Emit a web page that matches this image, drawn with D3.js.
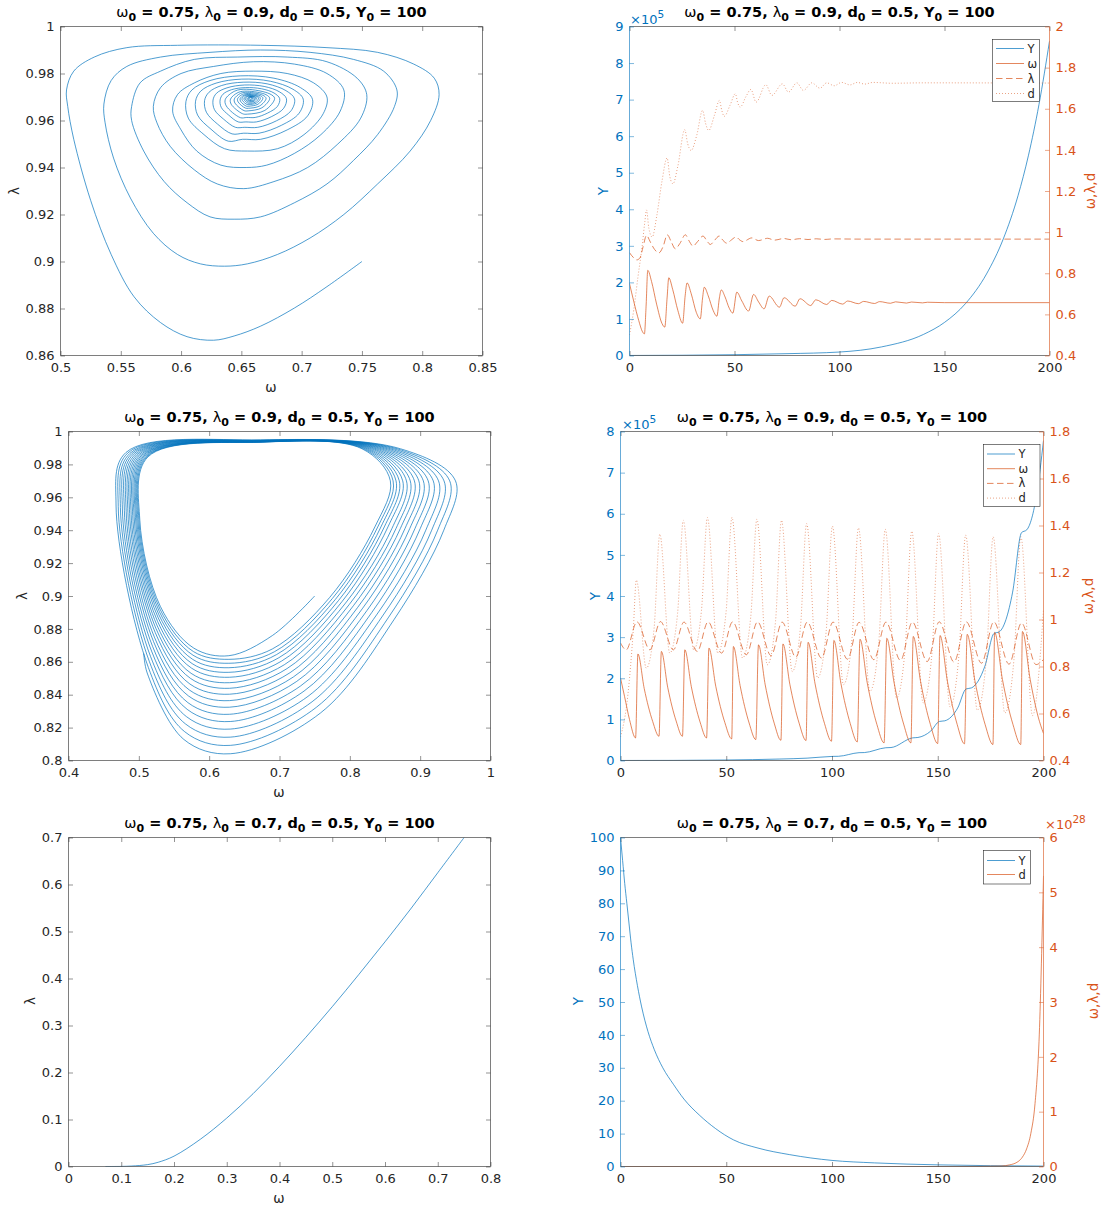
<!DOCTYPE html>
<html>
<head>
<meta charset="utf-8">
<script src="https://cdn.jsdelivr.net/npm/d3@7"></script>
<style>
  body { margin: 0; background: #fff; }
  svg text { font-family: "DejaVu Sans", sans-serif; white-space: pre; }
</style>
</head>
<body>
<svg id="fig" width="1102" height="1207"></svg>
<script>
const BLUE = '#0072BD', ORANGE = '#D95319', INK = '#262626'

// ---------- data ----------

// row titles: lambda_0 of each row
const lambda0 = ['0.9', '0.9', '0.7']

// top-left: converging spiral (omega, lambda)
const orbit1 = [
  [0.750,0.9000],[0.721,0.8893],[0.694,0.8802],[0.666,0.8725],[0.644,0.8683],[0.627,0.8665],[0.605,0.868],[0.583,0.874],
  [0.561,0.885],[0.542,0.903],[0.525,0.926],[0.511,0.952],[0.506,0.966],[0.505,0.973],[0.511,0.981],[0.528,0.987],
  [0.555,0.991],[0.597,0.992],[0.666,0.992],[0.721,0.991],[0.763,0.989],[0.793,0.984],[0.810,0.978],[0.814,0.971],
  [0.807,0.960],[0.790,0.947],[0.763,0.933],[0.735,0.920],[0.707,0.910],[0.680,0.903],[0.655,0.899],[0.636,0.898],
  [0.616,0.899],[0.597,0.903],[0.577,0.912],[0.558,0.927],[0.544,0.944],[0.537,0.959],[0.536,0.967],[0.542,0.977],
  [0.555,0.983],[0.583,0.987],[0.624,0.989],[0.666,0.990],[0.707,0.989],[0.743,0.986],[0.768,0.981],[0.779,0.973],
  [0.777,0.966],[0.763,0.954],[0.743,0.943],[0.721,0.933],[0.694,0.925],[0.666,0.919],[0.644,0.918],
  [0.624,0.919],[0.605,0.925],[0.586,0.934],[0.569,0.947],[0.559,0.960],[0.559,0.966],[0.566,0.976],[0.583,0.981],
  [0.611,0.986],[0.647,0.987],[0.688,0.987],[0.721,0.985],[0.746,0.978],[0.754,0.971],[0.749,0.961],[0.730,0.950],
  [0.705,0.940],[0.677,0.934],[0.652,0.931],
  [0.630,0.933],[0.611,0.939],[0.591,0.949],[0.580,0.959],[0.577,0.966],[0.583,0.974],[0.600,0.980],[0.627,0.983],
  [0.660,0.985],[0.694,0.984],[0.721,0.980],[0.735,0.973],[0.732,0.964],[0.716,0.954],[0.694,0.946],[0.671,0.941],[0.654,0.940],
  [0.633,0.941],[0.613,0.947],[0.600,0.956],[0.593,0.964],[0.597,0.971],[0.611,0.976],[0.633,0.980],[0.660,0.981],
  [0.688,0.980],[0.710,0.976],[0.721,0.970],[0.718,0.963],[0.702,0.954],[0.680,0.948],[0.655,0.947],
  [0.636,0.948],[0.619,0.954],[0.606,0.961],[0.604,0.968],[0.609,0.973],[0.624,0.977],[0.649,0.979],[0.677,0.978],
  [0.699,0.974],[0.709,0.969],[0.705,0.962],[0.688,0.956],[0.666,0.952],[0.651,0.952],
  [0.6392,0.9512],[0.6248,0.9563],[0.6137,0.9623],[0.6120,0.9682],[0.6163,0.9725],[0.6290,0.9759],[0.6503,0.9776],
  [0.6741,0.9767],[0.6928,0.9733],[0.7013,0.9691],[0.6979,0.9631],[0.6834,0.9580],[0.6647,0.9546],[0.6520,0.9546],
  [0.6423,0.9543],[0.6302,0.9585],[0.6210,0.9635],[0.6195,0.9685],[0.6231,0.9720],[0.6337,0.9749],[0.6515,0.9763],
  [0.6714,0.9756],[0.6870,0.9727],[0.6941,0.9692],[0.6913,0.9642],[0.6792,0.9599],[0.6636,0.9571],[0.6529,0.9571],
  [0.6451,0.9571],[0.6352,0.9606],[0.6277,0.9646],[0.6265,0.9687],[0.6294,0.9716],[0.6381,0.9739],[0.6526,0.9751],
  [0.6689,0.9745],[0.6816,0.9722],[0.6874,0.9693],[0.6851,0.9652],[0.6752,0.9617],[0.6625,0.9594],[0.6538,0.9594],
  [0.6474,0.9594],[0.6395,0.9623],[0.6333,0.9656],[0.6324,0.9688],[0.6348,0.9712],[0.6418,0.9731],[0.6536,0.9740],
  [0.6667,0.9735],[0.6771,0.9717],[0.6818,0.9693],[0.6799,0.9660],[0.6719,0.9632],[0.6615,0.9613],[0.6545,0.9613],
  [0.6492,0.9612],[0.6375,0.9662],[0.6367,0.9690],[0.6445,0.9725],[0.6542,0.9733],[0.6737,0.9713],[0.6776,0.9694],[0.6695,0.9643],[0.6550,0.9627],
  [0.6509,0.9629],[0.6416,0.9669],[0.6410,0.9691],[0.6472,0.9719],[0.6549,0.9725],[0.6704,0.9710],[0.6735,0.9694],[0.6670,0.9654],[0.6556,0.9641],
  [0.6522,0.9642],[0.6447,0.9674],[0.6442,0.9692],[0.6492,0.9715],[0.6554,0.9720],[0.6680,0.9707],[0.6705,0.9694],[0.6652,0.9662],[0.6559,0.9652],
  [0.6533,0.9653],[0.6473,0.9679],[0.6469,0.9693],[0.6509,0.9711],[0.6559,0.9715],[0.6659,0.9705],[0.6679,0.9695],[0.6637,0.9669],[0.6563,0.9661],
  [0.6541,0.9661],[0.6493,0.9682],[0.6490,0.9693],[0.6522,0.9708],[0.6562,0.9711],[0.6642,0.9703],[0.6658,0.9695],[0.6625,0.9674],[0.6565,0.9668],
  [0.6548,0.9668],[0.6509,0.9685],[0.6506,0.9694],[0.6532,0.9706],[0.6565,0.9708],[0.6630,0.9702],[0.6643,0.9695],[0.6616,0.9678],[0.6567,0.9673],
  [0.6554,0.9674],[0.6524,0.9687],[0.6522,0.9694],[0.6542,0.9703],[0.6567,0.9705],[0.6617,0.9700],[0.6627,0.9695],[0.6606,0.9682],[0.6569,0.9678],
  [0.6559,0.9679],[0.6535,0.9689],[0.6533,0.9695],[0.6549,0.9702],[0.6569,0.9704],[0.6609,0.9700],[0.6617,0.9696],[0.6600,0.9685],[0.6571,0.9682],
  [0.6545,0.9691],[0.6571,0.9702],[0.6607,0.9696],[0.6594,0.9688],[0.6572,0.9685],
  [0.6555,0.9693],[0.6573,0.9700],[0.6597,0.9696],[0.6573,0.9689],
  [0.6563,0.9695],[0.6574,0.9698],[0.6589,0.9696],[0.6576,0.9696]
]

// middle-left: widening cycle (omega, lambda)
const orbit2 = [
  [0.750,0.900],[0.690,0.876],
  [0.628,0.8637],[0.5782,0.8683],[0.5308,0.8935],[0.5014,0.9461],[0.5128,0.9845],[0.673,0.9935],[0.8173,0.9895],[0.8576,0.970],[0.8356,0.942],[0.7713,0.8991],[0.6898,0.8678],
  [0.628,0.8615],[0.5777,0.8662],[0.5301,0.8920],[0.5000,0.9465],[0.5115,0.9846],[0.673,0.9936],[0.8196,0.9895],[0.8615,0.970],[0.8397,0.942],[0.7752,0.8985],[0.6927,0.8661],
  [0.628,0.8591],[0.5771,0.8640],[0.5293,0.8904],[0.4985,0.9469],[0.5101,0.9847],[0.673,0.9936],[0.8221,0.9895],[0.8657,0.970],[0.8442,0.942],[0.7794,0.8979],[0.6959,0.8644],
  [0.628,0.8564],[0.5765,0.8615],[0.5285,0.8886],[0.4969,0.9473],[0.5086,0.9849],[0.673,0.9937],[0.8248,0.9895],[0.8703,0.970],[0.8490,0.942],[0.7838,0.8972],[0.6992,0.8625],
  [0.628,0.8536],[0.5758,0.8589],[0.5276,0.8867],[0.4952,0.9478],[0.5070,0.9850],[0.673,0.9938],[0.8277,0.9895],[0.8752,0.970],[0.8542,0.942],[0.7887,0.8965],[0.7028,0.8604],
  [0.629,0.8506],[0.5751,0.8561],[0.5266,0.8846],[0.4933,0.9483],[0.5053,0.9852],[0.673,0.9938],[0.8308,0.9895],[0.8805,0.970],[0.8598,0.941],[0.7939,0.8957],[0.7068,0.8582],
  [0.629,0.8473],[0.5743,0.8530],[0.5256,0.8824],[0.4913,0.9489],[0.5034,0.9853],[0.673,0.9939],[0.8341,0.9895],[0.8859,0.970],[0.8656,0.941],[0.7993,0.8949],[0.7108,0.8559],
  [0.629,0.8439],[0.5735,0.8499],[0.5245,0.8801],[0.4891,0.9495],[0.5015,0.9855],[0.673,0.9940],[0.8375,0.9895],[0.8918,0.970],[0.8718,0.941],[0.8051,0.8941],[0.7151,0.8534],
  [0.629,0.8403],[0.5726,0.8465],[0.5234,0.8777],[0.4869,0.9501],[0.4994,0.9857],[0.673,0.9941],[0.8412,0.9895],[0.8981,0.970],[0.8784,0.941],[0.8112,0.8931],[0.7198,0.8508],
  [0.629,0.8364],[0.5717,0.8429],[0.5221,0.8750],[0.4845,0.9507],[0.4972,0.9859],[0.673,0.9942],[0.8450,0.9895],[0.9045,0.970],[0.8852,0.941],[0.8176,0.8922],[0.7245,0.8481],
  [0.629,0.8324],[0.5707,0.8392],[0.5209,0.8723],[0.4820,0.9514],[0.4949,0.9861],[0.673,0.9943],[0.8491,0.9895],[0.9114,0.970],[0.8926,0.941],[0.8244,0.8912],[0.7296,0.8452],
  [0.629,0.8281],[0.5697,0.8352],[0.5195,0.8694],[0.4794,0.9521],[0.4924,0.9863],[0.673,0.9944],[0.8533,0.9895],[0.9186,0.970],[0.9001,0.941],[0.8314,0.8901],[0.7349,0.8422],
  [0.630,0.8237],[0.5687,0.8311],[0.5181,0.8665],[0.4766,0.9529],[0.4899,0.9865],[0.673,0.9945],[0.8577,0.9895],[0.9261,0.970],[0.9080,0.940],[0.8388,0.8890],[0.7405,0.8390],
  [0.630,0.8191],[0.5676,0.8267],[0.5166,0.8633],[0.4738,0.9537],[0.4873,0.9867],[0.673,0.9946],[0.8624,0.9895],[0.9339,0.970],[0.9164,0.940],[0.8466,0.8879],[0.7463,0.8357],
  [0.630,0.8142],[0.5664,0.8222],[0.5151,0.8600],[0.4707,0.9545],[0.4845,0.9870],[0.673,0.9947],[0.8672,0.9895],[0.9420,0.970],[0.9249,0.940],[0.8545,0.8867],[0.7523,0.8323],
  [0.630,0.8092],[0.5652,0.8175],[0.5135,0.8566],[0.4676,0.9553],[0.4816,0.9872],[0.673,0.9949],[0.8720,0.9895],[0.9502,0.970],[0.9336,0.940],[0.8626,0.8855],[0.7583,0.8289],
  [0.630,0.8041],[0.5640,0.8128],[0.5119,0.8532],[0.507,0.865]
]

// bottom-left: collapse towards the origin
const omega3  = [0.75, 0.70, 0.65, 0.60, 0.55, 0.50, 0.45, 0.40, 0.35, 0.30, 0.25, 0.20, 0.17, 0.15, 0.12, 0.10, 0.07]
const lambda3 = [0.70, 0.625, 0.55, 0.478, 0.408, 0.340, 0.275, 0.213, 0.155, 0.103, 0.058, 0.022, 0.009, 0.004, 0.001, 0.0002, 0]

// top-right time series
const tW2 = [0,2.1,4.4,6.2,7.1,7.9,8.7,10.5,12.9,15.5,16.8,17.9,18.7,20.6,23.0,25.3,26.5,27.4,29.4,31.8,33.7,34.8,35.6,37.5,39.8,41.6,42.8,43.7,45.5,47.5,49.2,51.1,53.5,56.7,59.1,61.5,64.1,66.5,71.4,73.6,78.9,81.2,86.3,88.7,93.9,96.3,101.5,103.9,109.0,111.5,116.7,119.1,124.3,126.7,131.9,134.3,139.5,141.9,150,200]
const w2  = [.750,.660,.570,.515,.505,.640,.814,.760,.650,.555,.538,.680,.778,.720,.620,.557,.690,.753,.700,.610,.578,.680,.732,.690,.620,.591,.680,.719,.685,.630,.606,.708,.665,.616,.697,.660,.627,.689,.635,.681,.640,.676,.643,.671,.648,.668,.650,.665,.652,.663,.653,.662,.654,.661,.655,.660,.656,.659,.657,.657]
const tL2 = [0,2,3.5,5,6.5,8.1,10,12,14,16,18,20,21.8,24,26.6,28.5,30.2,32.5,35,37,38.5,40.5,42.7,44.5,46.4,48.5,50.7,52.5,54,58.3,61.4,65.8,69,73.5,77,81,85,89,93,97,110,200]
const l2  = [.900,.875,.865,.875,.930,.984,.950,.915,.899,.930,.987,.950,.919,.945,.987,.955,.932,.955,.981,.955,.940,.960,.981,.960,.946,.962,.976,.962,.954,.972,.959,.970,.961,.969,.963,.968,.964,.9675,.9645,.967,.966,.966]
const tD2 = [0,2,4,6,7.3,8.1,9.2,10.8,13,15.5,17.9,19.2,20.7,23,26.3,27.7,29.3,32,34.8,36.2,37.7,40.5,42.8,44,45.1,48,50.4,51.5,52.7,55.5,57.8,60.3,64.9,67.8,72.8,75.7,79.7,82.8,86.8,90.7,93.9,97.5,101,105,108.5,112,116,125,140,200]
const d2  = [.50,.62,.78,.93,1.05,1.108,1.02,.976,1.08,1.25,1.361,1.27,1.235,1.32,1.498,1.43,1.397,1.47,1.592,1.53,1.494,1.57,1.640,1.59,1.563,1.62,1.673,1.63,1.608,1.66,1.694,1.632,1.717,1.665,1.721,1.681,1.726,1.689,1.726,1.700,1.726,1.712,1.728,1.716,1.728,1.72,1.728,1.724,1.726,1.725]
const tY2 = [0,25,50,75,100,120,140,150,160,170,178,185,190,195,200]
const y2  = [100,700,2200,5000,9500,23500,57700,90500,142000,223000,319000,437000,548000,687000,860000]

// middle-right time series
const tW4 = [0,1.9,4.27,7.13,8.23, 11.22,15.22,18.21,19.32, 22.31,26.31,29.30,30.40, 33.49,37.61,40.70,41.81,
  45.04,49.35,52.58,53.37, 56.55,60.80,63.98,65.24, 68.42,72.67,75.85,76.80, 80.08,84.45,87.73,88.68,
  92.00,96.44,99.76,100.88, 104.20,108.64,111.96,113.23, 116.65,121.21,124.63,125.90, 129.32,133.88,137.30,138.41,
  141.88,146.50,149.97,151.08, 154.55,159.17,162.64,163.90, 167.56,172.44,176.10,176.89, 180.60,185.54,189.24,190.03,
  193.7,197.5,200]
const w4  = [.751,.673,.574,.496,.853, .706,.566,.503,.864, .712,.568,.503,.871, .714,.564,.496,.878,
  .716,.561,.492,.885, .719,.560,.489,.892, .722,.559,.486,.896, .724,.559,.485,.903,
  .726,.558,.482,.911, .729,.557,.479,.916, .731,.554,.475,.920, .733,.555,.475,.928,
  .736,.554,.472,.932, .738,.554,.471,.937, .740,.552,.468,.945, .744,.554,.468,.949,
  .745,.585,.515]
const tL4 = [0,2.7,7.8,13.9,18.9,25.0,30.0,36.3,41.4,47.8,53.0,59.5,64.8,71.2,76.4,82.9,88.3,95.0,100.5,107.3,112.8,119.8,125.5,132.4,138.0,145.0,150.7,157.7,163.5,170.7,176.5,183.7,189.6,196.5,200]
const l4  = [.900,.871,.990,.871,.991,.871,.989,.864,.990,.857,.990,.850,.990,.846,.989,.840,.989,.836,.989,.831,.988,.829,.989,.826,.989,.821,.990,.819,.990,.814,.990,.810,.985,.808,.830]
const tD4 = [0,3.5,6,7.5, 12.2,15.9,18.6, 23.3,27.0,29.7, 34.6,38.3,41.1, 46.0,49.9,52.7, 57.7,61.6,64.5, 69.4,73.3,76.1,
  81.2,85.1,88.0, 93.2,97.2,100.2, 105.4,109.5,112.5, 117.9,122.1,125.2, 130.5,134.6,137.7, 143.1,147.3,150.4,
  155.8,160.0,163.2, 168.7,173.0,176.2, 181.7,186.0,189.3, 194.8,200]
const d4  = [.50,.68,.95,1.168, .793,.964,1.363, .857,1.027,1.422, .871,1.040,1.434, .857,1.030,1.434, .836,1.013,1.427, .807,.992,1.422,
  .779,.968,1.408, .751,.945,1.397, .723,.923,1.390, .694,.901,1.384, .666,.879,1.376, .645,.861,1.366,
  .628,.847,1.359, .614,.835,1.352, .602,.827,1.352, .591,1.04]
const tY4 = [0,25,50,75,88.2,100.5,103,112.8,115.3,125.4,127.9,138.1,140.6,146.7,150.8,153.3,159.4,163.4,165.9,172.3,176.6,179.1,185.4,189.6,192.1,196.8,200]
const y4  = [100,300,1200,3500,5700,10000,10200,19000,19300,31000,31500,55000,56000,71600,95000,96500,127500,174000,176500,229500,309000,313000,409400,554000,561000,648000,778000]

// bottom-right time series (d in units of 1e28)
const tY6 = [0,1,2,3,4,5,6,8,10,13,16,20,25,30,37.5,45,53.4,65,80,100,120,150,175,200]
const y6  = [100,93,86,80,74,68,63,55,48.5,41,35.5,30,25,20.5,15.5,11.5,8.1,5.6,3.6,1.85,1.1,0.5,0.25,0.12]
const tD6 = [0,150,170,180,184,186,188,190,192,194,196,198,200]
const d6  = [0,0,0.002,0.008,0.03,0.05,0.09,0.17,0.32,0.6,1.15,2.4,5.3]

// tick values
const ticksT   = [0, 50, 100, 150, 200]
const ticksW1  = [0.5, 0.55, 0.6, 0.65, 0.7, 0.75, 0.8, 0.85]
const ticksL1  = [0.86, 0.88, 0.9, 0.92, 0.94, 0.96, 0.98, 1]
const ticksW2  = [0.4, 0.5, 0.6, 0.7, 0.8, 0.9, 1]
const ticksL2  = [0.8, 0.82, 0.84, 0.86, 0.88, 0.9, 0.92, 0.94, 0.96, 0.98, 1]
const ticksW3  = [0, 0.1, 0.2, 0.3, 0.4, 0.5, 0.6, 0.7, 0.8]
const ticksL3  = [0, 0.1, 0.2, 0.3, 0.4, 0.5, 0.6, 0.7]
const ticksY2  = [0, 1, 2, 3, 4, 5, 6, 7, 8, 9]
const ticksR2  = [0.4, 0.6, 0.8, 1, 1.2, 1.4, 1.6, 1.8, 2]
const ticksY4  = [0, 1, 2, 3, 4, 5, 6, 7, 8]
const ticksR4  = [0.4, 0.6, 0.8, 1, 1.2, 1.4, 1.6, 1.8]
const ticksY6  = [0, 10, 20, 30, 40, 50, 60, 70, 80, 90, 100]
const ticksR6  = [0, 1, 2, 3, 4, 5, 6]

// ---------- drawing helpers ----------
const svg = d3.select('#fig')
let clipN = 0
const fmt = d => String(+d.toFixed(2))

function makePanel(b, xd, yd, ydR) {
  const p = { b }
  p.x = d3.scaleLinear().domain(xd).range([b[0], b[1]])
  p.y = d3.scaleLinear().domain(yd).range([b[3], b[2]])
  if (ydR) p.yR = d3.scaleLinear().domain(ydR).range([b[3], b[2]])
  const id = 'clip' + (clipN++)
  svg.append('clipPath').attr('id', id).append('rect')
    .attr('x', b[0]).attr('y', b[2]).attr('width', b[1] - b[0]).attr('height', b[3] - b[2])
  p.plot = svg.append('g').attr('clip-path', `url(#${id})`)
  return p
}

function axis(p, side, scale, ticks, color, labels, tf) {
  const b = p.b
  const gen = { bottom: d3.axisBottom, top: d3.axisTop, left: d3.axisLeft, right: d3.axisRight }[side]
  const pos = { bottom: [0, b[3]], top: [0, b[2]], left: [b[0], 0], right: [b[1], 0] }[side]
  const a = gen(scale).tickValues(ticks).tickSizeInner(-4.5).tickSizeOuter(0)
    .tickPadding(side === 'bottom' ? 7.5 : 6)
    .tickFormat(labels ? (tf || fmt) : '')
  const g = svg.append('g').attr('transform', `translate(${pos})`).call(a)
    .attr('font-size', 13)
  g.select('.domain').remove()
  g.selectAll('.tick line').attr('stroke', color).attr('stroke-width', 0.5)
  g.selectAll('.tick text').attr('fill', color)
  const seg = {
    bottom: [b[0], b[3], b[1], b[3]], top: [b[0], b[2], b[1], b[2]],
    left: [b[0], b[2], b[0], b[3]], right: [b[1], b[2], b[1], b[3]]
  }[side]
  svg.append('line').attr('x1', seg[0]).attr('y1', seg[1]).attr('x2', seg[2]).attr('y2', seg[3])
    .attr('stroke', color).attr('stroke-width', 0.6)
}

function trace(p, ys, pts, color, dash, curve, width) {
  p.plot.append('path').datum(pts)
    .attr('d', d3.line().x(d => p.x(d[0])).y(d => ys(d[1])).curve(curve))
    .attr('fill', 'none').attr('stroke', color).attr('stroke-width', width || 0.7)
    .attr('stroke-dasharray', dash || null)
}

function title(p, lam) {
  const t = svg.append('text').attr('x', (p.b[0] + p.b[1]) / 2).attr('y', p.b[2] - 10)
    .attr('text-anchor', 'middle').attr('font-size', 14.5).attr('font-weight', 'bold').attr('fill', '#000')
  const parts = [['ω', 'g'], ['0', 's'], [' = 0.75, ', 'n'], ['λ', 'g'], ['0', 's'], [' = ' + lam + ', d', 'n'],
    ['0', 's'], [' = 0.5, Y', 'n'], ['0', 's'], [' = 100', 'n']]
  let low = false
  parts.forEach(([s, k]) => {
    const ts = t.append('tspan').text(s)
    if (k === 's') { ts.attr('dy', 4).attr('font-size', 11); low = true }
    else if (low) { ts.attr('dy', -4); low = false }
    if (k === 'g') ts.attr('font-weight', 'normal')
  })
}

function label(x, y, txt, color, rot) {
  const t = svg.append('text').attr('text-anchor', 'middle').attr('dominant-baseline', 'central')
    .attr('font-size', 13.5).attr('fill', color).text(txt)
  if (rot) t.attr('transform', `translate(${x},${y}) rotate(-90)`)
  else t.attr('x', x).attr('y', y)
}

function exponent(x, y, pw, color) {
  const t = svg.append('text').attr('x', x).attr('y', y).attr('fill', color).attr('font-size', 13)
  t.append('tspan').text('×10')
  t.append('tspan').attr('dy', -6).attr('font-size', 10.5).text(pw)
}

function legend(x, y, w, h, y0, step, rows) {
  svg.append('rect').attr('x', x).attr('y', y).attr('width', w).attr('height', h)
    .attr('fill', '#fff').attr('stroke', INK).attr('stroke-width', 0.6)
  rows.forEach((r, i) => {
    const yy = y + y0 + i * step
    svg.append('line').attr('x1', x + 3.5).attr('x2', x + 31.5).attr('y1', yy).attr('y2', yy)
      .attr('stroke', r[1]).attr('stroke-width', r[2] === DOT ? 0.6 : 0.7).attr('stroke-dasharray', r[2] || null)
    svg.append('text').attr('x', x + 35).attr('y', yy).attr('dominant-baseline', 'central')
      .attr('font-size', 11.5).attr('fill', INK).text(r[0])
  })
}

const phaseCurve = d3.curveCatmullRom.alpha(0.5)
const timeCurve = d3.curveMonotoneX
const DASH = '6.5,3.5', DOT = '0.9,2.1'
const series = (t, v, k = 1) => t.map((d, i) => [d, v[i] * k])

function boxAxes(p, tx, ty) {
  axis(p, 'bottom', p.x, tx, INK, true)
  axis(p, 'top', p.x, tx, INK, false)
  axis(p, 'left', p.y, ty, INK, true)
  axis(p, 'right', p.y, ty, INK, false)
}

// ---------- panel 1: phase portrait, converging ----------
const p1 = makePanel([60.5, 482.5, 26.5, 355.5], [0.5, 0.85], [0.86, 1])
trace(p1, p1.y, orbit1, BLUE, null, phaseCurve)
boxAxes(p1, ticksW1, ticksL1)
title(p1, lambda0[0])
label(271, 387, 'ω', INK)
label(14, 191, 'λ', INK, true)

// ---------- panel 2: time series, converging ----------
const p2 = makePanel([629.5, 1049.5, 26.5, 355.5], [0, 200], [0, 9e5], [0.4, 2])
trace(p2, p2.y, series(tY2, y2), BLUE, null, timeCurve)
trace(p2, p2.yR, series(tW2, w2), ORANGE, null, timeCurve)
trace(p2, p2.yR, series(tL2, l2), ORANGE, DASH, timeCurve)
trace(p2, p2.yR, series(tD2, d2), ORANGE, DOT, timeCurve, 0.6)
axis(p2, 'bottom', p2.x, ticksT, INK, true)
axis(p2, 'top', p2.x, ticksT, INK, false)
axis(p2, 'left', p2.y, ticksY2.map(d => d * 1e5), BLUE, true, d => String(Math.round(d / 1e5)))
axis(p2, 'right', p2.yR, ticksR2, ORANGE, true)
title(p2, lambda0[0])
exponent(630, 24, '5', BLUE)
label(603, 191, 'Y', BLUE, true)
label(1090, 191, 'ω,λ,d', ORANGE, true)
legend(992.5, 39.5, 47, 62, 9, 15, [['Y', BLUE], ['ω', ORANGE], ['λ', ORANGE, DASH], ['d', ORANGE, DOT]])

// ---------- panel 3: phase portrait, widening cycle ----------
const p3 = makePanel([68.5, 490.5, 431.5, 760.5], [0.4, 1], [0.8, 1])
trace(p3, p3.y, orbit2, BLUE, null, phaseCurve)
boxAxes(p3, ticksW2, ticksL2)
title(p3, lambda0[1])
label(279, 792, 'ω', INK)
label(22, 596, 'λ', INK, true)

// ---------- panel 4: time series, widening cycle ----------
const p4 = makePanel([620.5, 1043.5, 431.5, 760.5], [0, 200], [0, 8e5], [0.4, 1.8])
trace(p4, p4.y, series(tY4, y4), BLUE, null, timeCurve)
trace(p4, p4.yR, series(tW4, w4), ORANGE, null, timeCurve)
trace(p4, p4.yR, series(tL4, l4), ORANGE, DASH, timeCurve)
trace(p4, p4.yR, series(tD4, d4), ORANGE, DOT, timeCurve, 0.6)
axis(p4, 'bottom', p4.x, ticksT, INK, true)
axis(p4, 'top', p4.x, ticksT, INK, false)
axis(p4, 'left', p4.y, ticksY4.map(d => d * 1e5), BLUE, true, d => String(Math.round(d / 1e5)))
axis(p4, 'right', p4.yR, ticksR4, ORANGE, true)
title(p4, lambda0[1])
exponent(622, 429, '5', BLUE)
label(595, 596, 'Y', BLUE, true)
label(1088, 596, 'ω,λ,d', ORANGE, true)
legend(983.5, 444.5, 56.5, 62, 9.5, 14.7, [['Y', BLUE], ['ω', ORANGE], ['λ', ORANGE, DASH], ['d', ORANGE, DOT]])

// ---------- panel 5: phase portrait, collapse ----------
const p5 = makePanel([68.5, 490.5, 837.5, 1166.5], [0, 0.8], [0, 0.7])
trace(p5, p5.y, omega3.map((w, i) => [w, lambda3[i]]), BLUE, null, phaseCurve)
boxAxes(p5, ticksW3, ticksL3)
title(p5, lambda0[2])
label(279, 1198, 'ω', INK)
label(30, 1001, 'λ', INK, true)

// ---------- panel 6: time series, collapse ----------
const p6 = makePanel([620.5, 1043.5, 837.5, 1166.5], [0, 200], [0, 100], [0, 6e28])
trace(p6, p6.y, series(tY6, y6), BLUE, null, timeCurve)
trace(p6, p6.yR, series(tD6, d6, 1e28), ORANGE, null, timeCurve)
axis(p6, 'bottom', p6.x, ticksT, INK, true)
axis(p6, 'top', p6.x, ticksT, INK, false)
axis(p6, 'left', p6.y, ticksY6, BLUE, true)
axis(p6, 'right', p6.yR, ticksR6.map(d => d * 1e28), ORANGE, true, d => String(Math.round(d / 1e28)))
title(p6, lambda0[2])
exponent(1045, 829, '28', ORANGE)
label(578, 1001, 'Y', BLUE, true)
label(1093, 1001, 'ω,λ,d', ORANGE, true)
legend(983.5, 850.5, 47, 33.5, 10, 14, [['Y', BLUE], ['d', ORANGE]])
</script>
</body>
</html>
